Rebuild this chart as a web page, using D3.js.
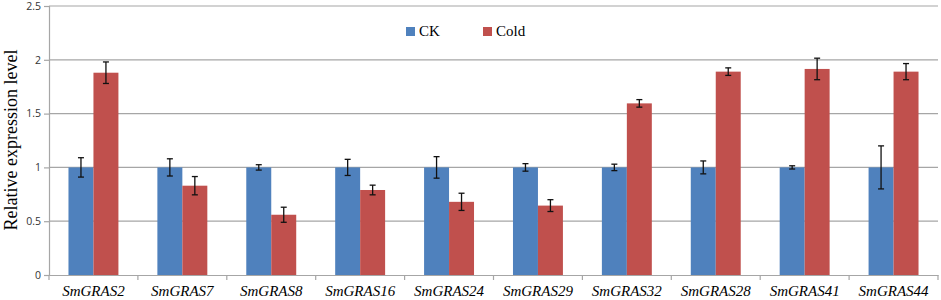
<!DOCTYPE html>
<html>
<head>
<meta charset="utf-8">
<script src="https://cdn.jsdelivr.net/npm/d3@7"></script>
<style>
  body { margin: 0; background: #fff; }
  svg { display: block; }
</style>
</head>
<body>
<div id="chart"></div>
<script>
// gene names along the x axis
const genes = ["SmGRAS2", "SmGRAS7", "SmGRAS8", "SmGRAS16", "SmGRAS24",
               "SmGRAS29", "SmGRAS32", "SmGRAS28", "SmGRAS41", "SmGRAS44"]
const seriesNames = ["CK", "Cold"]

const ckValues = [1, 1, 1, 1, 1, 1, 1, 1, 1, 1]
const ckErrors = [0.09, 0.08, 0.025, 0.075, 0.1, 0.035, 0.03, 0.06, 0.015, 0.2]
const coldValues = [1.88, 0.83, 0.56, 0.79, 0.68, 0.645, 1.595, 1.89, 1.915, 1.89]
const coldErrors = [0.1, 0.085, 0.07, 0.045, 0.08, 0.055, 0.035, 0.035, 0.1, 0.075]

const yTicks = [0, 0.5, 1, 1.5, 2, 2.5]

const colors = { CK: "#4f81bd", Cold: "#c0504d" }

const width = 941, height = 300
const margin = { top: 6, right: 3, bottom: 25, left: 49 }
const innerW = width - margin.left - margin.right
const innerH = height - margin.top - margin.bottom

const serif = "'Liberation Serif', 'DejaVu Serif', serif"

const svg = d3.select("#chart")
    .append("svg")
    .attr("width", width)
    .attr("height", height)

const graph = svg.append("g")
    .attr("transform", "translate(" + margin.left + "," + margin.top + ")")

const x0 = d3.scaleBand()
    .domain(genes)
    .range([0, innerW])

const x1 = d3.scaleBand()
    .domain(seriesNames)
    .range([0, x0.bandwidth()])
    .paddingInner(0)
    .paddingOuter(0.78)

const y = d3.scaleLinear()
    .domain([0, 2.5])
    .range([innerH, 0])

// gridlines
graph.append("g")
    .selectAll("line")
    .data(yTicks.slice(1))
    .enter()
    .append("line")
    .attr("x1", 0)
    .attr("x2", innerW)
    .attr("y1", d => y(d))
    .attr("y2", d => y(d))
    .attr("stroke", "#a6a6a6")
    .attr("stroke-width", 1.2)

// y axis
const yAxis = graph.append("g")
    .call(d3.axisLeft(y).tickValues(yTicks).tickSize(5).tickFormat(d => d))
yAxis.select(".domain").attr("stroke", "#a6a6a6").attr("stroke-width", 1.2)
yAxis.selectAll(".tick line").attr("stroke", "#a6a6a6").attr("stroke-width", 1.2)
yAxis.selectAll(".tick text")
    .attr("x", -8)
    .attr("fill", "#333")
    .style("font-family", "'Open Sans', 'Liberation Sans', sans-serif")
    .style("font-size", "10.5px")

// bars
const rows = genes.map((g, i) => ({
    gene: g,
    items: [
        { key: "CK", value: ckValues[i], err: ckErrors[i] },
        { key: "Cold", value: coldValues[i], err: coldErrors[i] }
    ]
}))

const groups = graph.append("g")
    .selectAll("g")
    .data(rows)
    .enter()
    .append("g")
    .attr("transform", d => "translate(" + x0(d.gene) + ",0)")

groups.selectAll("rect")
    .data(d => d.items)
    .enter()
    .append("rect")
    .attr("x", d => x1(d.key))
    .attr("y", d => y(d.value))
    .attr("width", x1.bandwidth())
    .attr("height", d => innerH - y(d.value))
    .attr("fill", d => colors[d.key])

// error bars
const errG = groups.selectAll("g.err")
    .data(d => d.items)
    .enter()
    .append("g")
    .attr("class", "err")
    .attr("stroke", "#111")
    .attr("stroke-width", 1.3)

errG.append("line")
    .attr("x1", d => x1(d.key) + x1.bandwidth() / 2)
    .attr("x2", d => x1(d.key) + x1.bandwidth() / 2)
    .attr("y1", d => y(d.value + d.err))
    .attr("y2", d => y(d.value - d.err))
errG.selectAll("line.cap")
    .data(d => [{ d: d, v: d.value + d.err }, { d: d, v: d.value - d.err }])
    .enter()
    .append("line")
    .attr("class", "cap")
    .attr("x1", e => x1(e.d.key) + x1.bandwidth() / 2 - 3)
    .attr("x2", e => x1(e.d.key) + x1.bandwidth() / 2 + 3)
    .attr("y1", e => y(e.v))
    .attr("y2", e => y(e.v))

// x axis
const xAxis = graph.append("g")
    .attr("transform", "translate(0," + innerH + ")")
    .call(d3.axisBottom(x0).tickSize(0).tickSizeOuter(0))
xAxis.select(".domain").attr("stroke", "#a6a6a6").attr("stroke-width", 1.2)
xAxis.selectAll(".tick text")
    .attr("y", 21)
    .attr("dy", 0)
    .attr("fill", "#000")
    .style("font-family", serif)
    .style("font-style", "italic")
    .style("font-size", "15px")

// category separator ticks
xAxis.append("g")
    .selectAll("line")
    .data(genes.concat(["end"]))
    .enter()
    .append("line")
    .attr("x1", (d, i) => i * x0.step())
    .attr("x2", (d, i) => i * x0.step())
    .attr("y1", 0)
    .attr("y2", 5)
    .attr("stroke", "#a6a6a6")
    .attr("stroke-width", 1.2)

// y label
svg.append("text")
    .attr("transform", "translate(17,140) rotate(-90)")
    .attr("text-anchor", "middle")
    .style("font-family", serif)
    .style("font-size", "18px")
    .text("Relative expression level")

// legend
const legend = svg.append("g")
const legendX = [406, 483]
seriesNames.forEach((s, i) => {
    legend.append("rect")
        .attr("x", legendX[i])
        .attr("y", 27)
        .attr("width", 9)
        .attr("height", 9)
        .attr("fill", colors[s])
    legend.append("text")
        .attr("x", legendX[i] + 13)
        .attr("y", 36)
        .style("font-family", serif)
        .style("font-size", "15px")
        .text(s)
})
</script>
</body>
</html>
